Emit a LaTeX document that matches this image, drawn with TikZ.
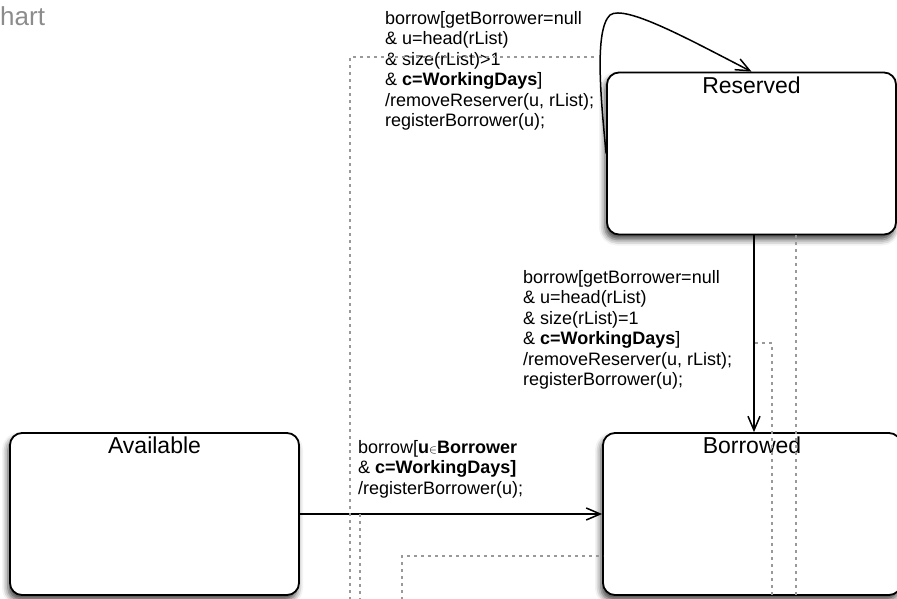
\documentclass[tikz,border=0pt]{standalone}
\usepackage{fontspec}
\setmainfont{Liberation Sans}
\usetikzlibrary{
    arrows.meta,
    shadows.blur
}

\begin{document}
\begin{tikzpicture}[x=1pt, y=-1pt,
    state/.style={draw, line width=1.8pt, rounded corners=12pt, fill=white,
        minimum width=289pt, minimum height=162pt, inner sep=0pt,
        blur shadow={shadow xshift=-2pt, shadow yshift=-5pt,
            shadow blur radius=6pt, shadow opacity=75}},
    statename/.style={anchor=north, inner sep=0pt, yshift=-5pt,
        font=\fontsize{23}{26}\selectfont},
    guard/.style={anchor=north west, inner sep=0pt, align=left,
        font=\fontsize{18}{20.5}\selectfont},
    trans/.style={line width=1.5pt, -{Straight Barb[length=14pt,width=12pt]}},
    hidden/.style={gray!80, line width=1.3pt, dash pattern=on 3pt off 4pt}
]

% Frame
\clip (0,0) rectangle (897,598);

% Title (cut off)
\node[anchor=base west, inner sep=0pt, text=gray!90,
    font=\fontsize{26}{30}\selectfont] (title) at (0,25) {hart};

% States
\node[state, label={[statename]north:Reserved}] (reserved) at (751.5,153.5) {};
\node[state, minimum width=298pt, label={[statename]north:Borrowed}] (borrowed) at (752,514) {};
\node[state, label={[statename]north:Available}] (available) at (154.5,514) {};

% Self loop on Reserved
\draw[trans] (reserved.west) .. controls (601,100) and (594,30) .. (610,15)
    .. controls (625,4) and (690,40) .. (reserved.north);
\node[guard] (loopguard) at (385,11) {borrow[getBorrower=null\\
    \& u=head(rList)\\
    \& size(rList)>1\\
    \& \textbf{c=WorkingDays}]\\
    /removeReserver(u, rList);\\
    registerBorrower(u);};

% Reserved to Borrowed
\draw[trans] ([xshift=2.5pt]reserved.south) -- ([xshift=2.5pt]reserved.south |- borrowed.north);
\node[guard] (lastguard) at (523,270) {borrow[getBorrower=null\\
    \& u=head(rList)\\
    \& size(rList)=1\\
    \& \textbf{c=WorkingDays}]\\
    /removeReserver(u, rList);\\
    registerBorrower(u);};

% Available to Borrowed
\draw[trans] (available) -- (borrowed);
\node[guard] (freeguard) at (358,440) {borrow[\textbf{u}{\fontsize{13}{13}\selectfont$\in$}\textbf{Borrower}\\
    \& \textbf{c=WorkingDays]}\\
    /registerBorrower(u);};

% Hidden connectors (dotted)
\coordinate (d1) at (350,600);
\coordinate (d2) at (360,600);
\coordinate (d3) at (402,600);
\coordinate (d4) at (772,600);
\coordinate (d5) at (796,600);
\draw[hidden] (d1) |- (595,57);
\draw[hidden] (d2 |- available.east) -- (d2);
\draw[hidden] (d3) |- (603,556);
\draw[hidden] (755,343) -| (d4);
\draw[hidden] (d5 |- reserved.south) -- (d5);

\end{tikzpicture}
\end{document}
